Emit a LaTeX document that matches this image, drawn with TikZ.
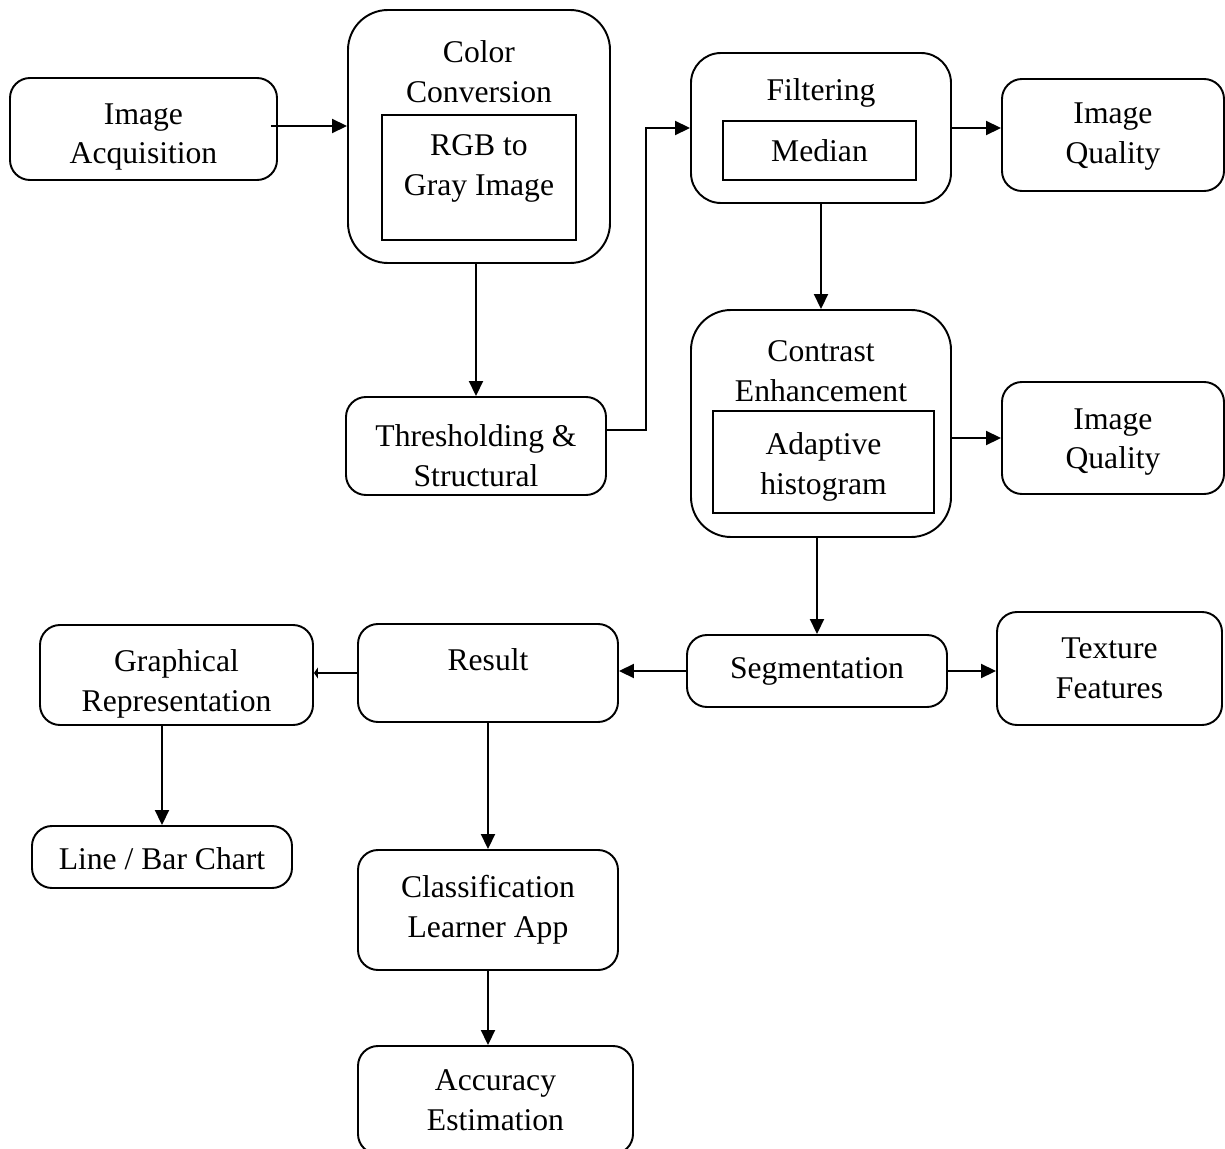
\documentclass[tikz,border=0pt]{standalone}
\usepackage{fontspec}
\setmainfont{Liberation Serif}
\usetikzlibrary{arrows.meta, positioning, calc}
\tikzset{
  box/.style={draw, line width=1.1pt, rounded corners=0.4cm, align=center, inner sep=0pt},
  bigbox/.style={box, rounded corners=0.8cm},
  inbox/.style={draw, line width=1.1pt, align=center, inner sep=0pt},
  arr/.style={line width=1.1pt, -{Triangle[length=0.3cm, width=0.28cm]}},
  tinyarr/.style={line width=1.1pt, -{Triangle[length=0.08cm, width=0.22cm]}}
}

\begin{document}
\begin{tikzpicture}[x=0.02cm, y=-0.02cm, font=\fontsize{18}{22.7}\selectfont]
\useasboundingbox (0,0) rectangle (1225,1149);
\def\u{0.02cm}

\node[box, minimum width=267*\u, minimum height=102*\u] (acq) at (143.5,129) {};
\node[align=center] (acqT) at (143.5,137) {Image\\Acquisition};

\node[bigbox, minimum width=262*\u, minimum height=253*\u] (conv) at (479,136.5) {};
\node[align=center] (convT) at (479,72) {Color\\Conversion};
\node[inbox, minimum width=194*\u, minimum height=125*\u] (rgb) at (479,177.5) {};
\node[align=center] (rgbT) at (479,168.5) {RGB to\\Gray Image};

\node[box, minimum width=260*\u, minimum height=98*\u] (thr) at (476,446) {};
\node[align=center] (thrT) at (476,455.5) {Thresholding \&\\Structural};

\node[box, rounded corners=0.6cm, minimum width=260*\u, minimum height=150*\u] (filt) at (821,128) {};
\node (filtT) at (821,93) {Filtering};
\node[inbox, minimum width=193*\u, minimum height=59*\u] (med) at (819.5,150.5) {Median};

\node[box, minimum width=222*\u, minimum height=112*\u] (iqa) at (1113,135) {};
\node[align=center] (iqaT) at (1113,137) {Image\\Quality};

\node[bigbox, minimum width=260*\u, minimum height=227*\u] (contr) at (821,423.5) {};
\node[align=center] (contrT) at (821,371) {Contrast\\Enhancement};
\node[inbox, minimum width=221*\u, minimum height=102*\u] (adapt) at (823.5,462) {};
\node[align=center] (adaptT) at (823.5,466.5) {Adaptive\\histogram};

\node[box, minimum width=222*\u, minimum height=112*\u] (iqb) at (1113,438) {};
\node[align=center] (iqbT) at (1113,442) {Image\\Quality};

\node[box, minimum width=260*\u, minimum height=72*\u] (seg) at (817,671) {Segmentation};
\node[box, minimum width=225*\u, minimum height=113*\u] (tex) at (1109.5,668.5) {Texture\\Features};

\node[box, minimum width=260*\u, minimum height=98*\u] (res) at (488,673) {};
\node (resT) at (488,660) {Result};

\node[box, minimum width=273*\u, minimum height=100*\u] (gr) at (176.5,675) {};
\node[align=center] (grT) at (176.5,684) {Graphical\\Representation};
\node[box, minimum width=260*\u, minimum height=62*\u] (chart) at (162,857) {};
\node (chartT) at (162,859) {Line / Bar Chart};

\node[box, minimum width=260*\u, minimum height=120*\u] (cls) at (488,910) {Classification\\Learner App};
\node[box, minimum width=275*\u, minimum height=108*\u] (acc) at (495.5,1100) {Accuracy\\Estimation};

\draw[arr] ([xshift=-0.14cm, yshift=0.06cm]acq.east) -- ([yshift=0.06cm]acq.east -| conv.west);
\draw[arr] (conv.south -| thr.north) -- (thr.north);
\draw[arr] ([yshift=0.32cm]thr.east) -- ++(39,0) |- (filt.west);
\draw[arr] (filt.east) -- (filt.east -| iqa.west);
\draw[arr] (filt.south) -- (contr.north);
\draw[arr] (iqb.west -| contr.east) -- (iqb.west);
\draw[arr] (contr.south -| seg.north) -- (seg.north);
\draw[arr] (seg.east) -- (seg.east -| tex.west);
\draw[arr] (seg.west) -- (seg.west -| res.east);
\draw[tinyarr] (res.west) -- (res.west -| gr.east);
\draw[arr] (gr.south -| chart.north) -- (chart.north);
\draw[arr] (res.south) -- (cls.north);
\draw[arr] (cls.south) -- (cls.south |- acc.north);
\end{tikzpicture}
\end{document}
